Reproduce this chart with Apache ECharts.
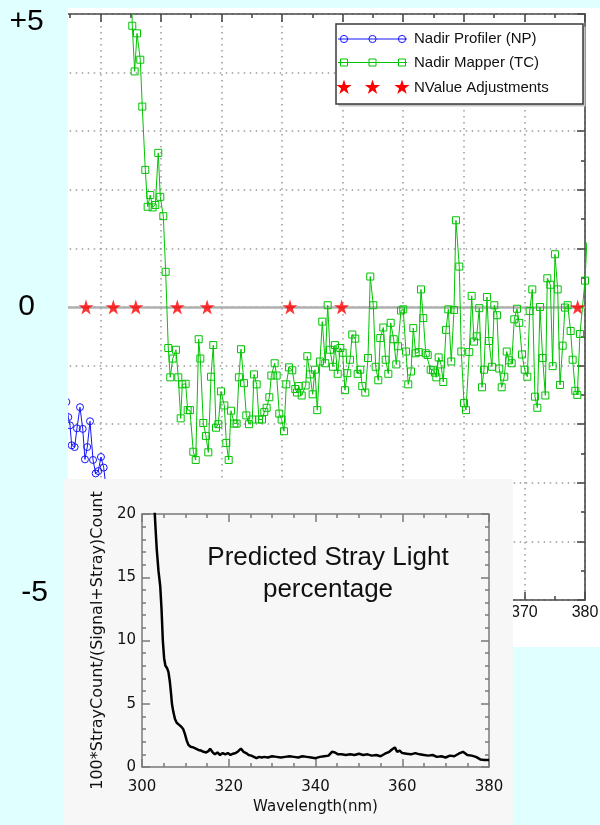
<!DOCTYPE html>
<html>
<head>
<meta charset="utf-8">
<script src="https://cdn.jsdelivr.net/npm/echarts@6/dist/echarts.min.js"></script>
<style>
  html, body { margin: 0; padding: 0; width: 600px; height: 825px; overflow: hidden; background: #e0ffff; }
  #panel { position: absolute; left: 68px; top: 8px; width: 532px; height: 639px; background: #ffffff; }
  #main  { position: absolute; left: 0; top: 0; width: 600px; height: 825px; }
  #inset { position: absolute; left: 63px; top: 479px; width: 450px; height: 346px; background: #f7f7f7; }
</style>
</head>
<body>
<div id="panel"></div>
<div id="main"></div>
<div id="inset"></div>
<script>
// ---- N-value residuals, wavelength (nm) vs difference ----
const npProfiler = [
  [294.40,-1.62],[294.72,-1.88],[295.00,-2.02],[295.28,-2.36],[295.77,-2.39],[296.15,-2.07],
  [296.65,-1.71],[297.10,-2.08],[297.47,-2.60],[297.85,-2.39],[298.30,-1.95],[298.80,-2.61],
  [299.24,-2.84],[299.67,-2.80],[300.11,-2.56],[300.56,-2.74],[300.94,-3.07],[301.30,-3.35]
];

const tcMapper = [
  [305.10,5.60],[305.28,4.80],[305.67,4.02],[306.06,4.67],[306.60,4.22],[306.93,3.42],[307.43,2.34],
  [307.82,1.71],[308.25,1.91],[308.64,1.70],[309.08,1.74],[309.57,2.63],[309.90,1.88],[310.40,1.55],
  [310.79,0.60],[311.22,-0.70],[311.55,-1.20],[311.95,-0.88],[312.49,-0.73],[312.87,-1.20],[313.27,-1.90],
  [313.53,-1.32],[314.09,-1.31],[314.42,-1.76],[314.80,-1.76],[315.35,-2.47],[315.75,-2.61],[316.24,-0.55],
  [316.51,-0.88],[317.00,-1.98],[317.44,-2.20],[317.83,-2.48],[318.27,-1.19],[318.65,-0.65],[319.10,-2.06],
  [319.48,-2.00],[319.92,-1.44],[320.47,-1.68],[320.80,-2.32],[321.19,-2.61],[321.57,-1.77],[322.12,-1.99],
  [322.50,-1.99],[322.88,-1.20],[323.22,-0.72],[323.72,-1.30],[324.10,-1.85],[324.54,-2.00],[325.09,-1.92],
  [325.37,-1.15],[325.81,-1.32],[326.19,-1.92],[326.69,-1.92],[327.07,-1.79],[327.46,-1.72],[327.90,-1.54],
  [328.23,-1.17],[328.78,-0.96],[329.11,-1.17],[329.54,-1.82],[329.93,-1.92],[330.32,-2.12],[330.70,-1.32],
  [331.14,-1.03],[331.69,-1.08],[332.19,-1.40],[332.47,-1.46],[332.74,-1.35],[333.24,-1.51],[333.90,-1.34],
  [334.17,-0.84],[334.60,-1.15],[335.05,-1.49],[335.43,-1.07],[335.81,-1.76],[336.26,-0.93],[336.64,-0.25],
  [337.13,-0.96],[337.53,0.03],[337.91,-0.73],[338.40,-1.02],[338.73,-0.65],[339.18,-1.14],[339.61,-0.70],
  [340.00,-0.78],[340.38,-1.42],[340.77,-1.13],[341.21,-0.90],[341.59,-0.47],[342.09,-0.54],[342.48,-1.14],
  [342.91,-1.07],[343.24,-1.35],[343.74,-1.46],[344.18,-0.87],[344.56,0.52],[345.06,0.03],[345.45,-1.02],
  [345.88,-1.25],[346.21,-0.53],[346.71,-0.35],[347.10,-0.90],[347.54,-1.14],[347.93,-0.27],[348.42,-0.55],
  [348.85,-0.98],[349.13,-0.67],[349.63,-0.06],[350.00,-0.04],[350.45,-0.76],[350.83,-1.32],[351.28,-1.10],
  [351.66,-0.36],[352.05,-0.79],[352.55,-0.77],[352.93,0.30],[353.31,-0.19],[353.71,-0.79],[354.04,-0.82],
  [354.53,-1.07],[354.91,-1.08],[355.24,-1.12],[355.46,-1.20],[355.85,-0.86],[356.23,-0.98],[356.61,-1.28],
  [357.06,-0.39],[357.44,-0.04],[357.93,-0.93],[358.38,-0.05],[358.70,1.48],[359.25,0.69],[359.58,-0.76],
  [360.03,-1.64],[360.36,-1.76],[360.90,-0.77],[361.30,0.19],[361.68,-0.59],[362.12,-0.50],[362.55,-0.02],
  [363.00,-1.37],[363.33,-1.07],[363.82,0.17],[364.15,-0.58],[364.64,-1.02],[365.03,0.03],[365.47,-0.14],
  [365.85,-1.05],[366.25,-1.37],[366.68,-1.19],[367.08,-0.76],[367.46,-0.91],[367.90,-0.96],[368.33,-0.21],
  [368.77,-0.03],[369.15,-0.27],[369.60,-0.81],[370.04,-1.07],[370.48,-1.19],[370.87,-0.07],[371.30,0.30],
  [371.74,-1.53],[372.13,-1.72],[372.57,0.00],[373.01,-0.87],[373.45,-1.51],[373.78,0.49],[374.28,0.38],
  [374.66,-1.01],[375.04,0.90],[375.49,0.30],[375.87,-1.33],[376.31,-0.66],[376.70,-0.01],[377.14,0.03],
  [377.63,-0.41],[377.96,-0.90],[378.40,-1.43],[378.73,-1.50],[379.17,-0.46],[380.00,0.45],[380.30,1.10]
];

// wavelengths of the N-value adjustment nodes (drawn on the zero line)
const nvalueAdjust = [297.64, 302.15, 305.86, 312.71, 317.64, 331.31, 339.84, 378.79];

// ---- predicted stray light, wavelength (nm) vs percentage ----
const strayLight = [
  [302.8,21.0],[303.1,19.0],[303.4,17.2],[303.8,15.5],[304.2,14.3],[304.5,12.5],[304.8,10.0],[305.1,8.6],
  [305.4,8.0],[305.8,7.8],[306.1,7.5],[306.4,6.8],[306.7,5.8],[306.9,5.0],[307.2,4.4],[307.6,3.8],
  [308.0,3.5],[308.5,3.35],[309.0,3.2],[309.5,3.0],[309.9,2.6],[310.3,2.1],[310.7,1.75],[311.2,1.6],
  [311.8,1.55],[312.4,1.45],[313.0,1.35],[313.6,1.3],[314.2,1.2],[314.8,1.15],[315.3,1.25],[315.7,1.45],
  [316.2,1.2],[316.8,1.0],[317.4,1.15],[318.0,0.95],[318.6,1.1],[319.2,1.0],[319.8,1.1],[320.4,0.95],
  [321.0,1.05],[321.6,1.1],[322.2,1.25],[322.8,1.45],[323.4,1.2],[324.0,1.1],[324.6,0.95],[325.2,0.9],
  [325.8,0.8],[326.4,0.7],[327.0,0.8],[327.6,0.75],[328.2,0.8],[329.0,0.75],[330.0,0.85],[331.0,0.8],
  [332.0,0.75],[333.0,0.8],[334.0,0.85],[335.0,0.8],[336.0,0.75],[337.0,0.85],[338.0,0.8],[339.0,0.75],
  [340.0,0.7],[341.0,0.8],[342.0,0.85],[343.0,0.9],[343.8,1.2],[344.5,1.15],[345.2,1.0],[346.0,1.0],
  [347.0,0.95],[348.0,1.0],[349.0,0.95],[350.0,1.05],[351.0,0.95],[352.0,1.0],[353.0,0.9],[354.0,0.95],
  [355.0,0.85],[356.0,1.05],[357.0,1.2],[357.7,1.4],[358.3,1.55],[358.8,1.2],[359.4,1.3],[360.0,1.1],
  [361.0,1.05],[362.0,1.0],[363.0,1.1],[364.0,1.0],[365.0,0.95],[366.0,0.9],[367.0,0.95],[368.0,0.8],
  [369.0,0.85],[370.0,0.75],[371.0,0.9],[372.0,0.85],[373.0,1.05],[374.0,1.2],[375.0,0.95],[376.0,0.9],
  [377.0,0.8],[378.0,0.6],[379.0,0.55],[380.0,0.55]
];

const sideLabels = { '5': '{t|+5}', '0': '0', '-5': '{b|-5}' };
const legendNames = ['Nadir Profiler (NP)', 'Nadir Mapper (TC)', 'NValue Adjustments'];
const insetTitle = 'Predicted Stray Light\npercentage';

// ---- styling ----
const FONT = "'Liberation Sans', Arial, sans-serif";
const SANS = "'DejaVu Sans', sans-serif";
const CYAN = '#e0ffff';
const GREEN = '#00c400';
const BLUE = '#1414ff';
const RED = '#ff0000';
// five-pointed star outline in a 100x100 box
const STAR_PTS = [[50,0],[61.2,34.5],[97.6,34.5],[68.2,55.9],[79.4,90.5],[50,69.1],[20.6,90.5],[31.8,55.9],[2.4,34.5],[38.8,34.5]];
const STAR = 'path://M' + STAR_PTS.map(p => p[0] + ',' + p[1]).join(' L') + ' Z';
const dotted = { color: '#9a9a9a', width: 1.5, type: [1.5, 4.5] };
const axisDark = { color: '#4a4a4a', width: 1.6 };
const hollow = c => ({ color: 'rgba(0,0,0,0)', borderColor: c, borderWidth: 1 });

function mainXAxis(pos) {
  return {
    type: 'value', position: pos, min: 290, max: 380, interval: 10,
    axisLine: { show: true, onZero: false, lineStyle: axisDark },
    axisTick: { show: true, inside: true, length: 8, lineStyle: axisDark },
    minorTick: { show: true, splitNumber: 2, length: 4, lineStyle: axisDark },
    axisLabel: pos === 'bottom'
      ? { show: true, fontSize: 16, fontFamily: FONT, color: '#111', margin: 5 }
      : { show: false },
    splitLine: { show: pos === 'bottom', lineStyle: dotted }
  };
}

// legend box drawn as graphic elements
const legendRows = [39, 62.5, 87.5];
const legendSymX = [344, 372.5, 402];
const legendEls = [
  { type: 'rect', z: 60, silent: true, shape: { x: 338.5, y: 26.5, width: 247, height: 80 }, style: { fill: '#c4c4c4' } },
  { type: 'rect', z: 61, silent: true, shape: { x: 336, y: 24, width: 247, height: 80 }, style: { fill: '#ffffff', stroke: '#3a3a3a', lineWidth: 1.5 } },
  { type: 'line', z: 62, silent: true, shape: { x1: 338, y1: legendRows[0], x2: 407, y2: legendRows[0] }, style: { stroke: BLUE, lineWidth: 1 } },
  { type: 'line', z: 62, silent: true, shape: { x1: 338, y1: legendRows[1], x2: 407, y2: legendRows[1] }, style: { stroke: GREEN, lineWidth: 1 } }
];
legendSymX.forEach(x => {
  legendEls.push({ type: 'circle', z: 63, silent: true, shape: { cx: x, cy: legendRows[0], r: 3.6 }, style: { fill: 'none', stroke: BLUE, lineWidth: 1 } });
  legendEls.push({ type: 'rect', z: 63, silent: true, shape: { x: x - 3.5, y: legendRows[1] - 3.5, width: 7, height: 7 }, style: { fill: 'none', stroke: GREEN, lineWidth: 1 } });
  legendEls.push({ type: 'polygon', z: 63, silent: true,
    shape: { points: STAR_PTS.map(p => [x - 8 + p[0] * 0.16, legendRows[2] - 8 + p[1] * 0.16]) },
    style: { fill: RED } });
});
legendNames.forEach((name, i) => {
  legendEls.push({ type: 'text', z: 63, silent: true, x: 414, y: legendRows[i],
    style: { text: name, fontSize: 15, fontFamily: FONT, fill: '#111', verticalAlign: 'middle', align: 'left' } });
});

const mainChart = echarts.init(document.getElementById('main'), null, { renderer: 'canvas' });
mainChart.setOption({
  animation: false,
  backgroundColor: 'transparent',
  grid: { left: 39.7, right: 15, top: 14, bottom: 225, containLabel: false, outerBoundsMode: 'none' },
  xAxis: [mainXAxis('bottom'), mainXAxis('top')],
  yAxis: [
    {
      type: 'value', position: 'left', min: -5, max: 5, interval: 5, z: 100,
      axisLine: { show: false, onZero: false }, axisTick: { show: false }, splitLine: { show: false },
      axisLabel: {
        show: true, fontSize: 30, fontFamily: FONT, color: '#000', align: 'center', margin: 13,
        formatter: v => sideLabels[String(v)],
        rich: {
          t: { fontSize: 30, fontFamily: FONT, color: '#000', padding: [16, 0, 0, 0] },
          b: { fontSize: 30, fontFamily: FONT, color: '#000', padding: [0, 0, 14, 16] }
        }
      }
    },
    {
      type: 'value', position: 'right', min: -5, max: 5, interval: 1,
      axisLine: { show: true, onZero: false, lineStyle: axisDark },
      axisTick: { show: true, inside: true, length: 8, lineStyle: axisDark },
      minorTick: { show: true, splitNumber: 2, length: 4, lineStyle: axisDark },
      axisLabel: { show: false },
      splitLine: { show: true, lineStyle: dotted }
    }
  ],
  graphic: [
    // left margin strip in the page colour
    { type: 'rect', z: 50, silent: true, shape: { x: 0, y: 0, width: 68, height: 825 }, style: { fill: CYAN } }
  ].concat(legendEls),
  series: [
    {
      name: legendNames[0], type: 'line', data: npProfiler, xAxisIndex: 0, yAxisIndex: 1, z: 2,
      symbol: 'circle', symbolSize: 7, itemStyle: hollow(BLUE), lineStyle: { color: BLUE, width: 1 },
      markLine: {
        z: 1, silent: true, symbol: ['none', 'none'], label: { show: false },
        lineStyle: { color: '#b0b0b0', width: 2.5, type: 'solid' },
        emphasis: { disabled: true },
        data: [{ yAxis: 0 }]
      }
    },
    {
      name: legendNames[1], type: 'line', data: tcMapper, xAxisIndex: 0, yAxisIndex: 1, z: 3,
      symbol: 'rect', symbolSize: 7, itemStyle: hollow(GREEN), lineStyle: { color: GREEN, width: 1 }
    },
    {
      name: legendNames[2], type: 'scatter', data: nvalueAdjust.map(w => [w, 0]), xAxisIndex: 0, yAxisIndex: 1, z: 4,
      symbol: STAR, symbolSize: 15, itemStyle: { color: RED }
    }
  ]
});

// ---- inset: predicted stray light percentage ----
const insetAxisLine = { color: '#7a7a7a', width: 1.5 };
function insetX(pos) {
  const bottom = pos === 'bottom';
  return {
    type: 'value', position: pos, min: 300, max: 380, interval: 20,
    name: bottom ? 'Wavelength(nm)' : '', nameLocation: 'middle', nameGap: 33,
    nameTextStyle: { fontSize: 15, fontFamily: SANS, color: '#111' },
    axisLine: { show: true, onZero: false, lineStyle: insetAxisLine },
    axisTick: { show: true, inside: true, length: 8, lineStyle: insetAxisLine },
    minorTick: { show: true, splitNumber: 4, length: 4, lineStyle: insetAxisLine },
    axisLabel: bottom ? { show: true, fontSize: 15, fontFamily: SANS, color: '#111', margin: 13 } : { show: false },
    splitLine: { show: false }
  };
}
function insetY(pos) {
  const left = pos === 'left';
  return {
    type: 'value', position: pos, min: 0, max: 20, interval: 5,
    name: left ? '100*StrayCount/(Signal+Stray)Count' : '', nameLocation: 'middle', nameGap: 36,
    nameTextStyle: { fontSize: 16, fontFamily: SANS, color: '#111' },
    axisLine: { show: true, onZero: false, lineStyle: insetAxisLine },
    axisTick: { show: true, inside: true, length: 8, lineStyle: insetAxisLine },
    minorTick: { show: true, splitNumber: 5, length: 4, lineStyle: insetAxisLine },
    axisLabel: left ? { show: true, fontSize: 15, fontFamily: SANS, color: '#111', margin: 6 } : { show: false },
    splitLine: { show: false }
  };
}

const insetChart = echarts.init(document.getElementById('inset'), null, { renderer: 'canvas' });
insetChart.setOption({
  animation: false,
  backgroundColor: '#f7f7f7',
  grid: { left: 79, right: 24, top: 35, bottom: 58, containLabel: false, outerBoundsMode: 'none' },
  xAxis: [insetX('bottom'), insetX('top')],
  yAxis: [insetY('left'), insetY('right')],
  graphic: [
    { type: 'text', silent: true, x: 265, y: 63,
      style: { text: insetTitle, fontSize: 26, fontFamily: FONT, fill: '#111', align: 'center', verticalAlign: 'top', lineHeight: 32 } }
  ],
  series: [
    { type: 'line', data: strayLight, xAxisIndex: 0, yAxisIndex: 0, symbol: 'none', showSymbol: false, clip: true,
      lineStyle: { color: '#000', width: 2.5 } }
  ]
});
</script>
</body>
</html>
